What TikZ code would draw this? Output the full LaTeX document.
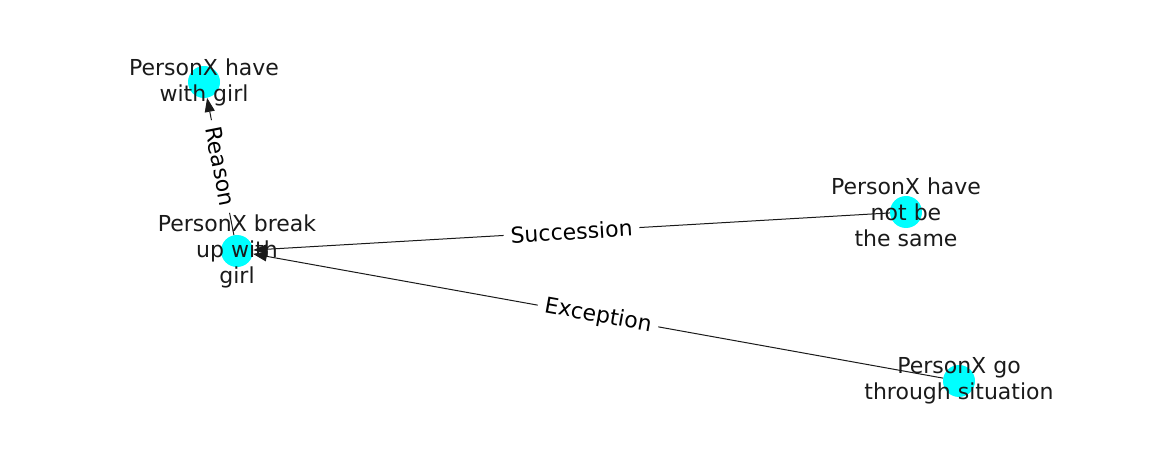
\documentclass[tikz,border=0pt]{standalone}
\usepackage{fontspec}
\setmainfont{DejaVu Sans}
\usetikzlibrary{arrows.meta}
\definecolor{nodecyan}{RGB}{0,255,255}
\definecolor{inkgray}{RGB}{26,26,26}
\tikzset{
  event/.style={circle, fill=nodecyan, minimum size=32pt, inner sep=0pt},
  eventtext/.style={align=center, text=inkgray, font=\fontsize{22}{26}\selectfont},
  rel/.style={draw=inkgray, line width=1pt, -{Triangle[length=14pt,width=10pt]}},
  rellabel/.style={fill=white, inner xsep=7pt, inner ysep=2pt, sloped, text=black, font=\fontsize{22}{26}\selectfont}
}
\begin{document}
\begin{tikzpicture}[x=1pt,y=-1pt]
  \path[use as bounding box] (0,0) rectangle (1162,462);
  \node[event] (have) at (204,82) {};
  \node[event] (break) at (237,251) {};
  \node[event] (same) at (906,212) {};
  \node[event] (go) at (959,381) {};
  \draw[rel] (break) -- node[rellabel] {Reason} (have);
  \draw[rel] (same) -- node[rellabel] {Succession} (break);
  \draw[rel] (go) -- node[rellabel] {Exception} (break);
  \node[eventtext] (havetext) at (have) {PersonX have\\with girl};
  \node[eventtext] (breaktext) at (break) {PersonX break\\up with\\girl};
  \node[eventtext] (sametext) at (same) {PersonX have\\not be\\the same};
  \node[eventtext] (gotext) at (go) {PersonX go\\through situation};
\end{tikzpicture}
\end{document}
